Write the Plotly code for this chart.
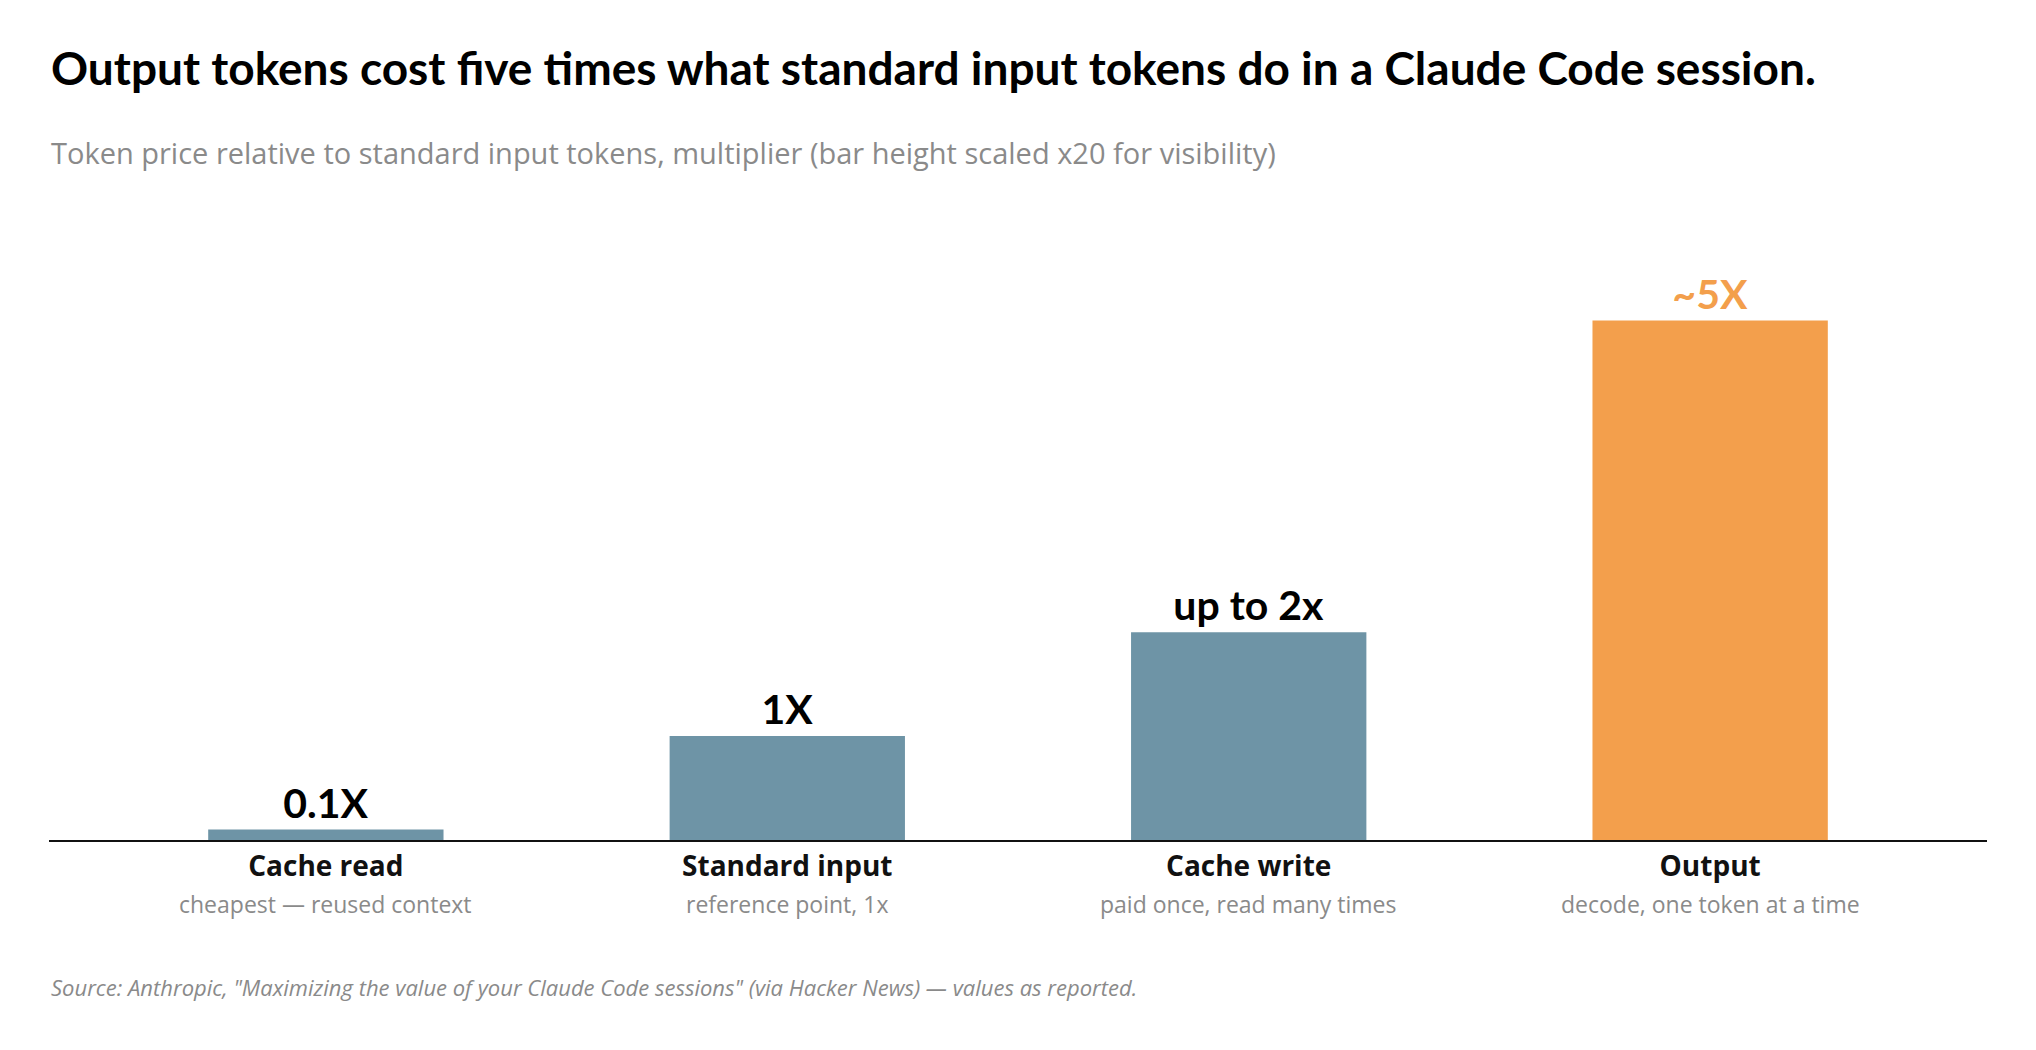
import plotly.graph_objects as go

categories = ["Cache read", "Standard input", "Cache write", "Output"]
descriptions = ["cheapest — reused context", "reference point, 1x",
                "paid once, read many times", "decode, one token at a time"]
multipliers = [0.1, 1, 2, 5]
value_labels = ["0.1X", "1X", "up to 2x", "~5X"]
bar_colors = ["#6E94A6", "#6E94A6", "#6E94A6", "#F39F4C"]
label_colors = ["#000000", "#000000", "#000000", "#F39F4C"]

title = "Output tokens cost five times what standard input tokens do in a Claude Code session."
subtitle = "Token price relative to standard input tokens, multiplier (bar height scaled x20 for visibility)"
source = 'Source: Anthropic, "Maximizing the value of your Claude Code sessions" (via Hacker News) — values as reported.'

x_idx = list(range(len(categories)))

fig = go.Figure()
fig.add_trace(go.Bar(
    x=x_idx, y=multipliers, width=0.51,
    marker=dict(color=bar_colors, line=dict(width=0)),
    text=[f"<b>{t}</b>" for t in value_labels], textposition="outside",
    textfont=dict(family="Lato, sans-serif", size=41, color=label_colors),
    constraintext="none", cliponaxis=False, hoverinfo="skip",
))

for i, d in enumerate(descriptions):
    fig.add_annotation(x=i, xref="x", y=-0.1, yref="paper", yanchor="middle",
                       text=d, showarrow=False,
                       font=dict(family="Open Sans, sans-serif", size=23, color="#8a8a8a"))

W, H = 2020, 1034
T, B = 192, 202
fig.update_layout(
    width=W, height=H,
    paper_bgcolor="white", plot_bgcolor="white",
    margin=dict(l=41, r=41, t=T, b=B, pad=0),
    showlegend=False,
    xaxis=dict(range=[-0.6, 3.6], tickmode="array", tickvals=x_idx,
               ticktext=[f"<b>{c}</b>" for c in categories],
               tickfont=dict(family="Open Sans, sans-serif", size=28, color="#111111"),
               showgrid=False, zeroline=False, showline=True, linecolor="#111111",
               linewidth=2, ticks="", fixedrange=True),
    yaxis=dict(range=[0, 6.16], visible=False, fixedrange=True),
)

fig.add_annotation(x=0, xref="paper", xanchor="left", y=1.0, yref="paper",
                   yanchor="middle", yshift=T - 59, text=f"<b>{title}</b>", showarrow=False,
                   font=dict(family="Lato, sans-serif", size=46, color="#000000"))
fig.add_annotation(x=0, xref="paper", xanchor="left", y=1.0, yref="paper",
                   yanchor="middle", yshift=T - 144, text=subtitle, showarrow=False,
                   font=dict(family="Open Sans, sans-serif", size=29, color="#8a8a8a"))
fig.add_annotation(x=0, xref="paper", xanchor="left", y=0, yref="paper",
                   yanchor="middle", yshift=-147, text=f"<i>{source}</i>", showarrow=False,
                   font=dict(family="Open Sans, sans-serif", size=22, color="#8a8a8a"))

fig.write_html("out.html")
